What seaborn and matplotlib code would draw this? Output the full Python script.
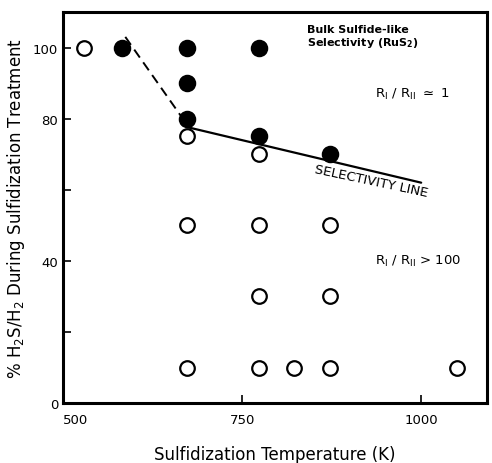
import numpy as np
import pandas as pd
import seaborn as sns
import matplotlib.pyplot as plt

# 데이터
open_T = [530, 673, 673, 673, 773, 773, 773, 773, 823, 873, 873, 873, 1050]
open_pct = [100, 75, 50, 10, 70, 50, 30, 10, 10, 50, 30, 10, 10]
filled_T = [583, 673, 673, 673, 773, 773, 873]
filled_pct = [100, 100, 90, 80, 100, 75, 70]
dash_T = [587, 676]
dash_pct = [103, 77.5]
line_T = [676, 1000]
line_pct = [77.5, 62]

df_open = pd.DataFrame({'T': open_T, 'pct': open_pct})
df_filled = pd.DataFrame({'T': filled_T, 'pct': filled_pct})

sns.set_style('ticks')
plt.rcParams['font.family'] = ['DejaVu Sans']
plt.rcParams['mathtext.default'] = 'regular'
plt.rcParams['text.color'] = 'black'
plt.rcParams['axes.labelcolor'] = 'black'
plt.rcParams['xtick.color'] = 'black'
plt.rcParams['ytick.color'] = 'black'
plt.rcParams['axes.edgecolor'] = 'black'

fig = plt.figure(figsize=(4.92, 4.64), dpi=100)
ax = fig.add_axes([0.128, 0.129, 0.862, 0.843])

sns.lineplot(x=dash_T, y=dash_pct, ax=ax, color='black', lw=1.4,
             linestyle=(0, (5, 3)))
sns.lineplot(x=line_T, y=line_pct, ax=ax, color='black', lw=1.6)
sns.scatterplot(data=df_filled, x='T', y='pct', ax=ax, s=130,
                color='black', edgecolor='black', linewidth=1.2, zorder=3)
sns.scatterplot(data=df_open, x='T', y='pct', ax=ax, s=110,
                facecolor='white', edgecolor='black', linewidth=1.6, zorder=3)

ax.set_xlim(500, 1092)
ax.set_ylim(0, 110)
ax.set_xticks([500, 750, 1000])
ax.set_xticklabels(['500', '750', '1000'])
ax.get_xticklabels()[0].set_ha('left')
ax.set_yticks([0, 20, 40, 60, 80, 100])
ax.set_yticklabels(['0', '', '40', '', '80', '100'])
ax.tick_params(direction='in', length=6, width=1.2, labelsize=9.5)
ax.tick_params(axis='x', pad=7)
for s in ax.spines.values():
    s.set_linewidth(2.2)
    s.set_visible(True)

ax.set_xlabel('Sulfidization Temperature (K)', fontsize=12, labelpad=14)
ax.set_ylabel('% H$_2$S/H$_2$ During Sulfidization Treatment', fontsize=12,
              labelpad=4)

ax.text(840, 103, 'Bulk Sulfide-like\nSelectivity (RuS$_2$)', fontsize=8,
        fontweight='bold', va='center', ha='left', linespacing=1.1)
ax.text(935, 87, r'R$_{\mathrm{I}}$ / R$_{\mathrm{II}}$ $\simeq$ 1', fontsize=9.5,
        va='center', ha='left')
ax.text(935, 40, r'R$_{\mathrm{I}}$ / R$_{\mathrm{II}}$ > 100', fontsize=9.5,
        va='center', ha='left')
ax.text(930, 62.5, 'SELECTIVITY LINE', fontsize=9.5, rotation=-12,
        va='center', ha='center')

plt.savefig('out.png', dpi=100)
